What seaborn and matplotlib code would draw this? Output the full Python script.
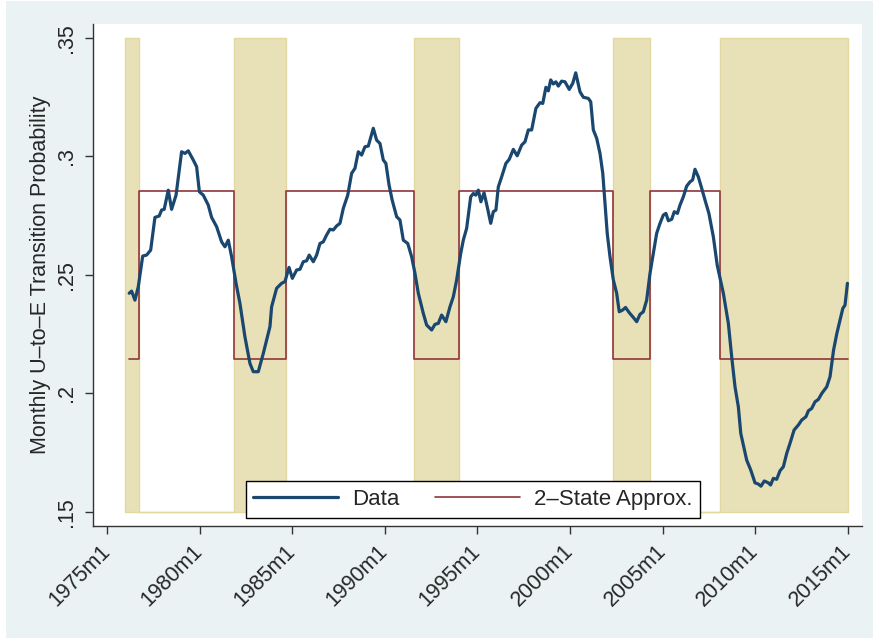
# U-to-E transition probability vs. 2-state approximation, Stata-like look
import numpy as np
import pandas as pd
import matplotlib
matplotlib.use("Agg")
import matplotlib.pyplot as plt
from matplotlib.patches import Rectangle
import seaborn as sns

# datos (fecha en anios decimales)
fechas = [1976.20, 1976.33, 1976.51, 1976.69, 1976.93, 1977.14, 1977.36, 1977.59, 1977.82, 1977.95,
          1978.09, 1978.31, 1978.49, 1978.73, 1979.03, 1979.21, 1979.39, 1979.66, 1979.84, 1979.99,
          1980.20, 1980.47, 1980.65, 1980.92, 1981.19, 1981.37, 1981.55, 1981.73, 1981.97, 1982.18,
          1982.45, 1982.72, 1982.90, 1983.17, 1983.44, 1983.80, 1983.89, 1984.16, 1984.43, 1984.61,
          1984.83, 1985.01, 1985.24, 1985.42, 1985.60, 1985.78, 1985.92, 1986.14, 1986.32, 1986.50,
          1986.68, 1986.86, 1987.04, 1987.22, 1987.40, 1987.58, 1987.76, 1988.00, 1988.21, 1988.39,
          1988.57, 1988.75, 1988.93, 1989.11, 1989.25, 1989.38, 1989.56, 1989.74, 1989.92, 1990.06,
          1990.23, 1990.40, 1990.64, 1990.82, 1991.00, 1991.24, 1991.45, 1991.63, 1991.81, 1992.08,
          1992.26, 1992.53, 1992.71, 1992.89, 1993.07, 1993.30, 1993.52, 1993.70, 1993.88, 1994.10,
          1994.24, 1994.42, 1994.64, 1994.78, 1994.91, 1995.05, 1995.19, 1995.36, 1995.53, 1995.72,
          1995.86, 1996.00, 1996.13, 1996.31, 1996.54, 1996.72, 1996.94, 1997.15, 1997.39, 1997.57,
          1997.75, 1997.93, 1998.16, 1998.38, 1998.53, 1998.70, 1998.83, 1998.96, 1999.10, 1999.24,
          1999.37, 1999.55, 1999.73, 1999.96, 2000.15, 2000.31, 2000.54, 2000.72, 2000.99, 2001.12,
          2001.26, 2001.44, 2001.62, 2001.77, 2001.89, 2002.01, 2002.16, 2002.34, 2002.52, 2002.66,
          2002.84, 2003.00, 2003.20, 2003.42, 2003.60, 2003.78, 2003.96, 2004.14, 2004.32, 2004.50,
          2004.68, 2004.86, 2005.04, 2005.18, 2005.31, 2005.49, 2005.63, 2005.80, 2005.94, 2006.12,
          2006.30, 2006.48, 2006.62, 2006.75, 2006.93, 2007.11, 2007.29, 2007.50, 2007.74, 2007.95,
          2008.28, 2008.55, 2008.73, 2008.91, 2009.09, 2009.22, 2009.36, 2009.54, 2009.76, 2009.99,
          2010.17, 2010.31, 2010.49, 2010.71, 2010.83, 2010.98, 2011.16, 2011.34, 2011.52, 2011.70,
          2011.88, 2012.10, 2012.33, 2012.51, 2012.74, 2012.87, 2013.05, 2013.23, 2013.41, 2013.60,
          2013.86, 2014.04, 2014.23, 2014.41, 2014.58, 2014.73, 2014.85, 2014.98]

prob_ue = [0.2422, 0.2431, 0.2393, 0.2449, 0.2579, 0.2583, 0.2604, 0.2742, 0.2748, 0.2773,
           0.2776, 0.2857, 0.2776, 0.2836, 0.3019, 0.3012, 0.3023, 0.2984, 0.2956, 0.2850,
           0.2836, 0.2794, 0.2742, 0.2703, 0.2639, 0.2618, 0.2646, 0.2576, 0.2464, 0.2379,
           0.2238, 0.2126, 0.2091, 0.2091, 0.2168, 0.2281, 0.2365, 0.2443, 0.2464, 0.2471,
           0.2531, 0.2485, 0.2520, 0.2523, 0.2555, 0.2559, 0.2583, 0.2555, 0.2583, 0.2632,
           0.2639, 0.2668, 0.2692, 0.2689, 0.2706, 0.2717, 0.2780, 0.2836, 0.2928, 0.2949,
           0.3019, 0.3005, 0.3040, 0.3043, 0.3082, 0.3118, 0.3068, 0.3054, 0.2984, 0.2970,
           0.2879, 0.2815, 0.2745, 0.2731, 0.2646, 0.2632, 0.2576, 0.2506, 0.2422, 0.2337,
           0.2288, 0.2267, 0.2291, 0.2295, 0.2330, 0.2302, 0.2365, 0.2407, 0.2478, 0.2590,
           0.2646, 0.2696, 0.2829, 0.2843, 0.2836, 0.2857, 0.2808, 0.2846, 0.2787, 0.2717,
           0.2766, 0.2773, 0.2871, 0.2913, 0.2970, 0.2987, 0.3029, 0.3002, 0.3047, 0.3061,
           0.3111, 0.3111, 0.3202, 0.3226, 0.3223, 0.3291, 0.3276, 0.3322, 0.3305, 0.3314,
           0.3296, 0.3317, 0.3314, 0.3282, 0.3308, 0.3352, 0.3272, 0.3249, 0.3244, 0.3230,
           0.3111, 0.3076, 0.3012, 0.2928, 0.2801, 0.2675, 0.2576, 0.2478, 0.2422, 0.2344,
           0.2351, 0.2362, 0.2340, 0.2320, 0.2302, 0.2333, 0.2344, 0.2393, 0.2506, 0.2590,
           0.2675, 0.2717, 0.2752, 0.2759, 0.2728, 0.2734, 0.2766, 0.2759, 0.2794, 0.2829,
           0.2874, 0.2892, 0.2900, 0.2945, 0.2913, 0.2865, 0.2815, 0.2759, 0.2660, 0.2540,
           0.2422, 0.2295, 0.2154, 0.2027, 0.1943, 0.1831, 0.1781, 0.1718, 0.1676, 0.1622,
           0.1617, 0.1608, 0.1630, 0.1622, 0.1613, 0.1641, 0.1637, 0.1673, 0.1690, 0.1746,
           0.1789, 0.1845, 0.1866, 0.1887, 0.1901, 0.1926, 0.1936, 0.1964, 0.1974, 0.2000,
           0.2027, 0.2070, 0.2182, 0.2253, 0.2309, 0.2358, 0.2372, 0.2464]

# regimenes de la aproximacion de 2 estados (1 = estado bajo, sombreado)
inicio_regimen = [1976.0, 1976.75, 1981.833, 1984.667, 1991.583, 1994.0, 2002.333, 2004.333, 2008.083, 2015.0]
estado_bajo = [1, 0, 1, 0, 1, 0, 1, 0, 1, 1]
nivel_bajo = 0.2143
nivel_alto = 0.2855
inicio_linea = 1976.2  # la linea roja arranca junto con los datos

sombra_min = 0.15
sombra_max = 0.35

x_ticks = [1975, 1980, 1985, 1990, 1995, 2000, 2005, 2010, 2015]
x_labels = ["1975m1", "1980m1", "1985m1", "1990m1", "1995m1", "2000m1", "2005m1", "2010m1", "2015m1"]
y_ticks = [0.15, 0.20, 0.25, 0.30, 0.35]
y_labels = [".15", ".2", ".25", ".3", ".35"]

# colores tipo Stata s2color
AZUL = "#1A476F"
GUINDA = "#90353B"
ARENA = "#E8E0B6"
ARENA_BORDE = "#E4D8A2"
FONDO = "#EAF2F3"

sns.set_theme(style="white")
plt.rcParams["font.family"] = ["Liberation Sans", "DejaVu Sans"]

df_datos = pd.DataFrame({"fecha": fechas, "prob": prob_ue})
bajo = np.array(estado_bajo)
df_estado = pd.DataFrame({
    "fecha": [inicio_linea] + inicio_regimen[1:],
    "nivel": np.where(bajo == 1, nivel_bajo, nivel_alto),
})
sombra = np.where(bajo == 1, sombra_max, sombra_min)

fig = plt.figure(figsize=(8.73, 6.39), dpi=100, facecolor="white")
fig.patches.append(Rectangle((6 / 873, 1 / 639), 1 - 6 / 873, 1 - 2 / 639,
                             transform=fig.transFigure, facecolor=FONDO,
                             edgecolor="none", zorder=-10))
ax = fig.add_axes([92.7 / 873, 1 - 526 / 639, 769 / 873, 502 / 639])
ax.set_facecolor("white")

# area sombreada de los periodos de estado bajo
ax.fill_between(inicio_regimen, sombra_min, sombra, step="post",
                facecolor=ARENA, edgecolor=ARENA_BORDE, linewidth=1.0, zorder=1)

sns.lineplot(data=df_datos, x="fecha", y="prob", color=AZUL, linewidth=2.3,
             sort=False, ax=ax, label="Data", zorder=3)
sns.lineplot(data=df_estado, x="fecha", y="nivel", color=GUINDA, linewidth=1.2,
             drawstyle="steps-post", sort=False, ax=ax, label="2–State Approx.", zorder=2)

ax.set_xlim(1974.23, 2015.75)
ax.set_ylim(0.144, 0.3558)

ax.set_xticks(x_ticks)
ax.set_xticklabels(x_labels, rotation=45, ha="right", va="center",
                   rotation_mode="anchor", fontsize=15.5)
ax.set_yticks(y_ticks)
ax.set_yticklabels(y_labels, rotation=90, va="center", fontsize=15.5)
ax.tick_params(axis="both", direction="out", length=6, width=1.0, color="#333333",
               left=True, bottom=True)
ax.tick_params(axis="x", pad=10)
ax.tick_params(axis="y", pad=5)

ax.set_xlabel("")
ax.set_ylabel("Monthly U–to–E Transition Probability", fontsize=15.5, labelpad=4)

for lado in ["top", "right"]:
    ax.spines[lado].set_visible(False)
for lado in ["left", "bottom"]:
    ax.spines[lado].set_color("#333333")
    ax.spines[lado].set_linewidth(1.0)

leg = ax.legend(loc="lower center", bbox_to_anchor=(0.4944, 0.016), ncol=2,
                fontsize=16, frameon=True, fancybox=False, framealpha=1,
                edgecolor="black", handlelength=3.8, handletextpad=0.65,
                columnspacing=1.6, borderpad=0.35, borderaxespad=0)
leg.get_frame().set_linewidth(1.0)
leg.set_zorder(5)

fig.savefig("out.png", dpi=100, facecolor=fig.get_facecolor())
